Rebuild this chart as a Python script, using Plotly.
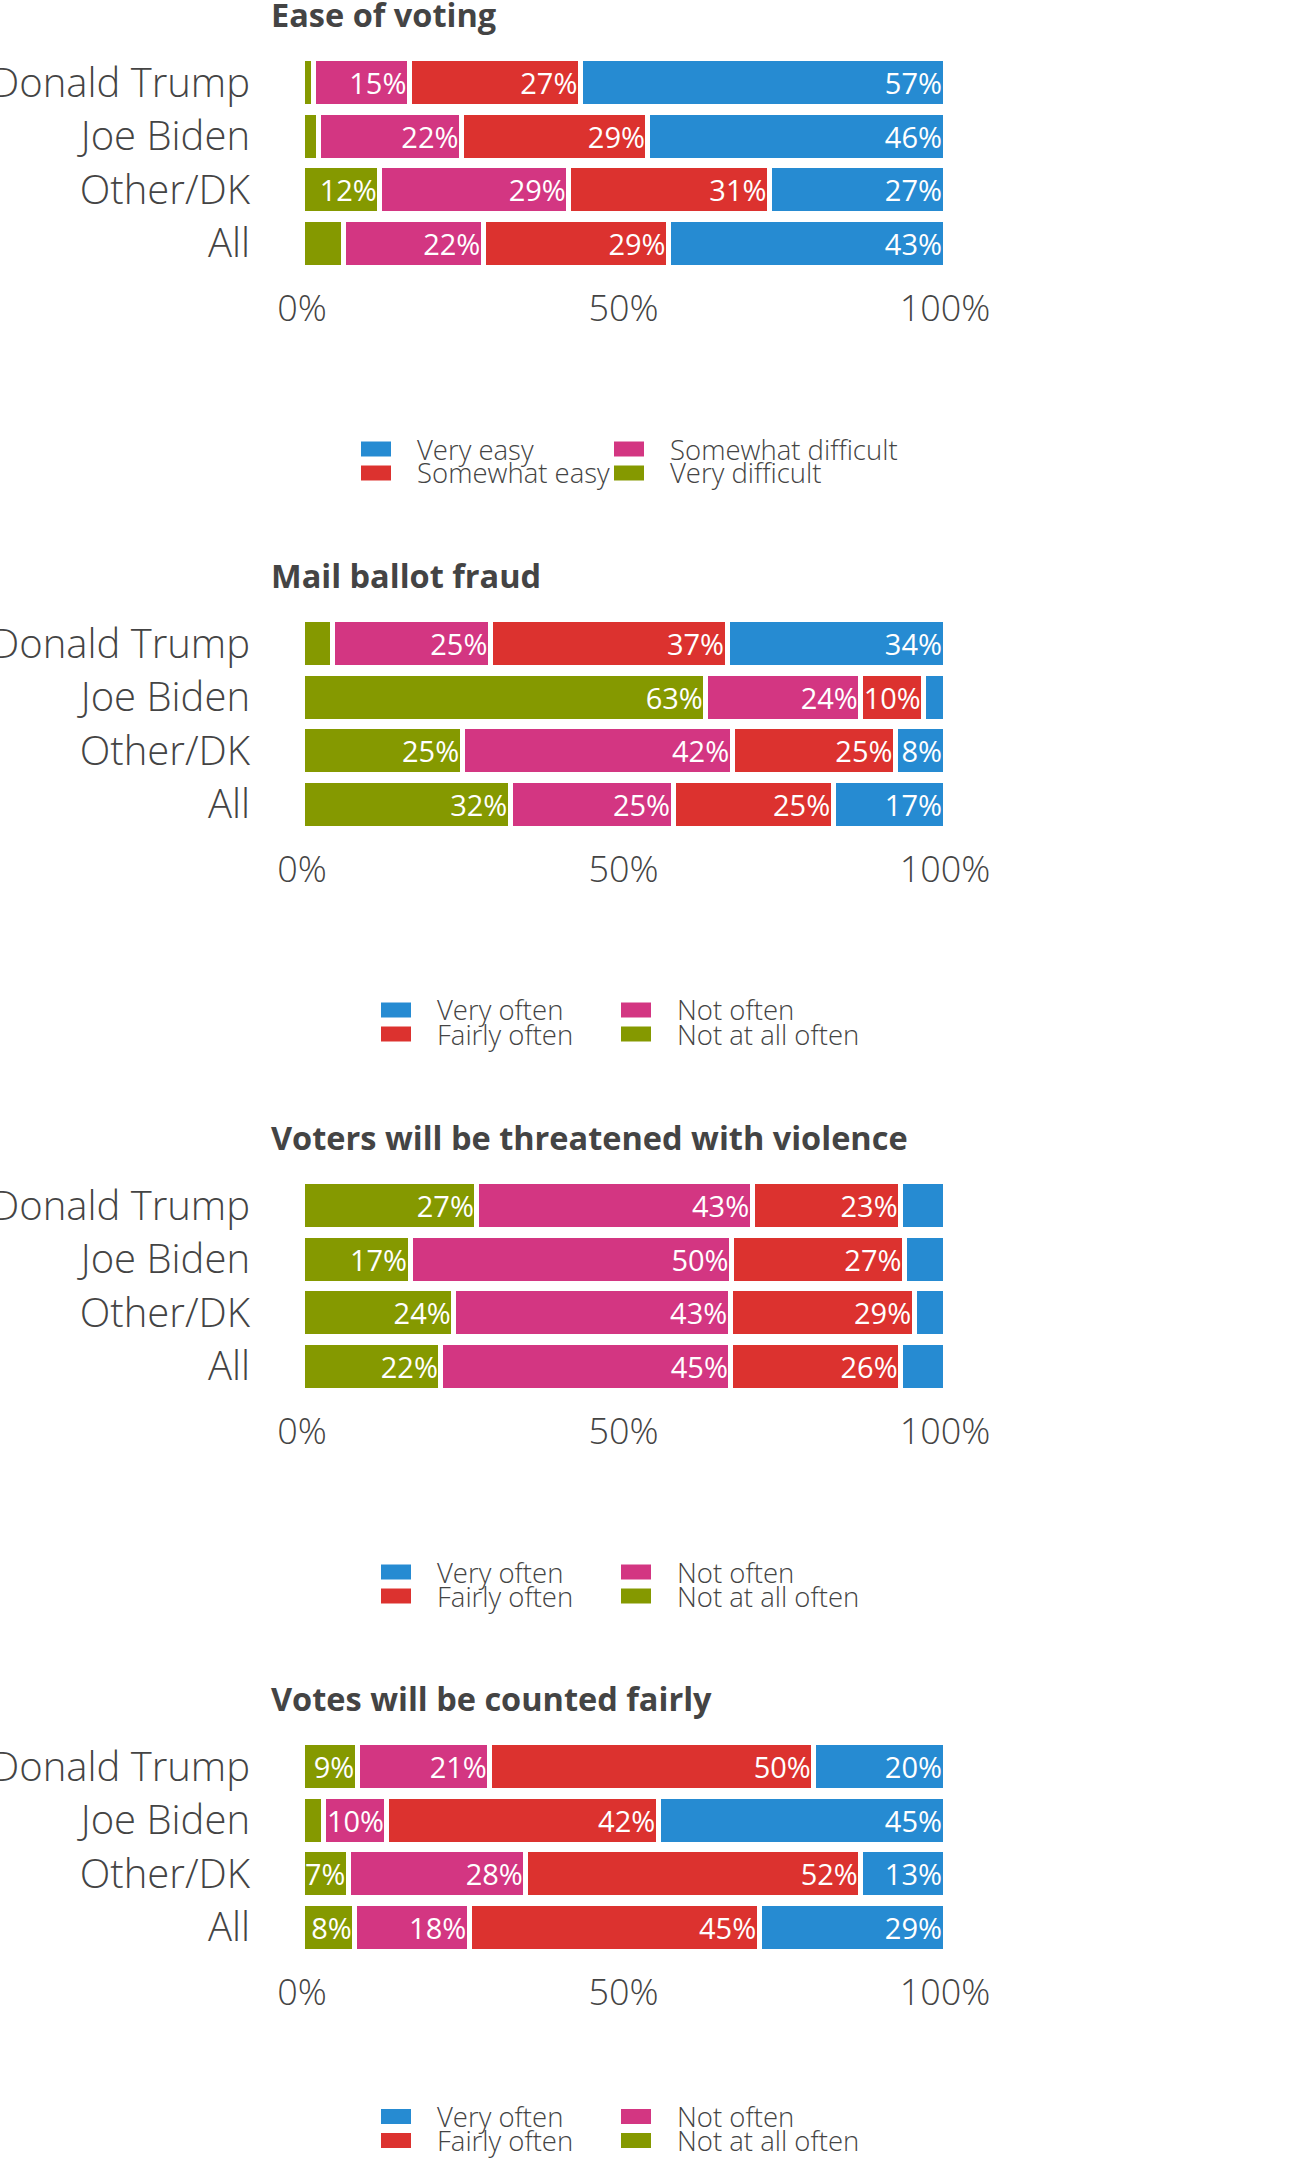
import plotly.graph_objects as go

# ---------------- data ----------------
categories = ["Donald Trump", "Joe Biden", "Other/DK", "All"]

panel_titles = [
    "Ease of voting",
    "Mail ballot fraud",
    "Voters will be threatened with violence",
    "Votes will be counted fairly",
]

ease_series = ["Very difficult", "Somewhat difficult", "Somewhat easy", "Very easy"]
often_series = ["Not at all often", "Not often", "Fairly often", "Very often"]

# Ease of voting (% per category, order: Trump, Biden, Other/DK, All)
ease_very_difficult = [1.8, 2.5, 12.1, 6.4]
ease_somewhat_difficult = [14.9, 22.3, 29.4, 21.8]
ease_somewhat_easy = [26.6, 29.0, 31.2, 28.8]
ease_very_easy = [56.7, 46.2, 27.3, 43.0]

# Mail ballot fraud
fraud_not_at_all = [4.7, 62.8, 24.9, 32.4]
fraud_not_often = [24.6, 24.1, 42.0, 25.3]
fraud_fairly = [36.8, 9.8, 25.4, 24.9]
fraud_very = [33.9, 3.3, 7.7, 17.4]

# Voters will be threatened with violence
violence_not_at_all = [27.2, 16.8, 23.6, 21.6]
violence_not_often = [42.8, 50.0, 43.0, 45.1]
violence_fairly = [23.1, 26.9, 28.6, 26.4]
violence_very = [6.9, 6.3, 4.8, 6.9]

# Votes will be counted fairly
counted_not_at_all = [8.6, 3.4, 7.2, 8.2]
counted_not_often = [20.6, 9.8, 27.6, 17.8]
counted_fairly = [50.4, 42.2, 52.1, 45.1]
counted_very = [20.4, 44.6, 13.1, 28.9]

x_tick_values = [0, 50, 100]
x_tick_labels = ["0%", "50%", "100%"]

# ---------------- styling ----------------
colors = ["#859900", "#d33682", "#dc322f", "#268bd2"]
FONT = "Open Sans"
TEXT = "#444444"
W, H = 1300, 2175

panel_values = [
    [ease_very_difficult, ease_somewhat_difficult, ease_somewhat_easy, ease_very_easy],
    [fraud_not_at_all, fraud_not_often, fraud_fairly, fraud_very],
    [violence_not_at_all, violence_not_often, violence_fairly, violence_very],
    [counted_not_at_all, counted_not_often, counted_fairly, counted_very],
]
panel_series = [ease_series, often_series, often_series, often_series]


def px_x(x):
    return x / W


def px_y(y):
    return 1 - y / H


panel_top = [55.7, 616.7, 1178.7, 1739.7]
panel_h = 214.6
plot_x0, plot_x1 = 302, 945
legend_offset = [393.3, 393.3, 393.3, 376.8]
legend_cols = [[361, 614], [381, 621], [381, 621], [381, 621]]
legend_row_gap = 24
# legend grid position (row, col) for series index 0..3 (green, pink, red, blue)
legend_pos = {3: (0, 0), 2: (1, 0), 1: (0, 1), 0: (1, 1)}

fig = go.Figure()
shapes = []
annotations = []
layout = {}

for p in range(4):
    sfx = "" if p == 0 else str(p + 1)
    xa, ya = "x" + sfx, "y" + sfx
    for s in range(4):
        vals = panel_values[p][s]
        fig.add_trace(go.Bar(
            x=vals, y=categories, orientation="h",
            name=panel_series[p][s],
            marker=dict(color=colors[s], line=dict(color="white", width=5)),
            text=[f"{v:.0f}%" if v >= 7 else "" for v in vals],
            textposition="inside", insidetextanchor="end", textangle=0,
            insidetextfont=dict(family=FONT, size=29, color="white"),
            xaxis=xa, yaxis=ya, showlegend=False, hoverinfo="skip",
        ))
    top = panel_top[p]
    layout["xaxis" + sfx] = dict(
        domain=[px_x(plot_x0), px_x(plot_x1)], range=[0, 100], anchor=ya,
        tickvals=x_tick_values, ticktext=x_tick_labels,
        showgrid=False, zeroline=False, showline=False, ticks="",
        tickfont=dict(family=FONT, size=36, color=TEXT, weight=300),
        ticklabelstandoff=14, fixedrange=True, automargin=False,
    )
    layout["yaxis" + sfx] = dict(
        domain=[px_y(top + panel_h), px_y(top)], anchor=xa,
        categoryorder="array", categoryarray=categories, autorange="reversed",
        showgrid=False, zeroline=False, showline=False, ticks="",
        tickfont=dict(family=FONT, size=40, color=TEXT, weight=300),
        ticklabelstandoff=51, fixedrange=True, automargin=False,
    )
    # panel title
    annotations.append(dict(
        text=panel_titles[p], xref="paper", yref="paper",
        x=px_x(269), y=px_y(top - 41.5), xanchor="left", yanchor="middle",
        showarrow=False, font=dict(family=FONT, size=32.5, color=TEXT, weight=700),
    ))
    # legend
    for s in range(4):
        r, c = legend_pos[s]
        cy = top + legend_offset[p] + r * legend_row_gap
        cx = legend_cols[p][c]
        shapes.append(dict(
            type="rect", xref="paper", yref="paper",
            x0=px_x(cx), x1=px_x(cx + 30), y0=px_y(cy - 7.5), y1=px_y(cy + 7.5),
            fillcolor=colors[s], line=dict(width=0),
        ))
        annotations.append(dict(
            text=panel_series[p][s], xref="paper", yref="paper",
            x=px_x(cx + 54), y=px_y(cy), xanchor="left", yanchor="middle",
            showarrow=False, font=dict(family=FONT, size=27.5, color=TEXT, weight=300),
        ))

fig.update_layout(
    width=W, height=H, autosize=False,
    margin=dict(l=0, r=0, t=0, b=0, pad=0),
    paper_bgcolor="white", plot_bgcolor="white",
    barmode="stack", bargap=0.105,
    font=dict(family=FONT, color=TEXT),
    shapes=shapes, annotations=annotations,
    **layout,
)

fig.write_html("out.html", config={"displayModeBar": False},
               post_script="document.body.style.margin='0';")
